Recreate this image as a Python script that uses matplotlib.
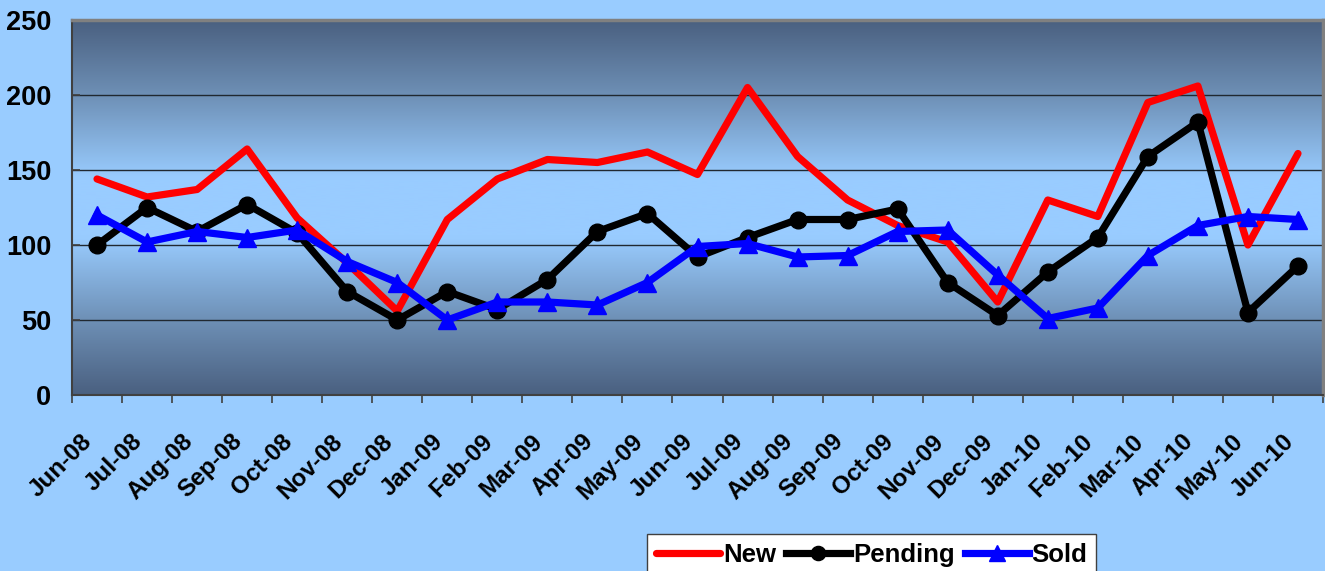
#!/usr/bin/env python3
import numpy as np
import matplotlib
matplotlib.use("Agg")
import matplotlib.pyplot as plt
from matplotlib.colors import LinearSegmentedColormap

# ----------------------------
# Data
# ----------------------------
months = [
    "Jun-08", "Jul-08", "Aug-08", "Sep-08", "Oct-08", "Nov-08", "Dec-08",
    "Jan-09", "Feb-09", "Mar-09", "Apr-09", "May-09", "Jun-09", "Jul-09",
    "Aug-09", "Sep-09", "Oct-09", "Nov-09", "Dec-09", "Jan-10", "Feb-10",
    "Mar-10", "Apr-10", "May-10", "Jun-10",
]
new = [144, 132, 137, 164, 118, 88, 56, 117, 144, 157, 155, 162, 147,
       205, 159, 130, 113, 102, 62, 130, 119, 195, 206, 100, 161]
pending = [100, 125, 109, 127, 108, 69, 50, 69, 57, 77, 109, 121, 92,
           105, 117, 117, 124, 75, 53, 82, 105, 159, 182, 55, 86]
sold = [120, 102, 109, 105, 110, 89, 75, 50, 62, 62, 60, 75, 99,
        101, 92, 93, 109, 110, 80, 51, 58, 93, 113, 119, 117]

# ----------------------------
# Style
# ----------------------------
plt.rcParams.update({
    "font.family": ["Liberation Sans", "DejaVu Sans"],
    "font.weight": "bold",
})

BG = "#99CCFF"
DARK = "#4A6080"

fig = plt.figure(figsize=(13.25, 5.71), dpi=100, facecolor=BG)
ax = fig.add_axes([72 / 1325, 176 / 571, 1251 / 1325, 375 / 571])

# vertical gradient dark -> light -> dark
cmap = LinearSegmentedColormap.from_list(
    "grad",
    [(0.0, DARK), (0.2, "#6E90B6"), (0.42, BG), (0.58, BG),
     (0.8, "#6E90B6"), (1.0, DARK)],
)
grad = np.linspace(0, 1, 256).reshape(-1, 1)
ax.imshow(grad, extent=[0, len(months), 0, 250], aspect="auto", cmap=cmap,
          origin="lower", zorder=0, interpolation="bicubic")

x = np.arange(len(months)) + 0.5

for yv in [50, 100, 150, 200]:
    ax.axhline(yv, color="#202830", linewidth=1.0, zorder=1)

ax.plot(x, new, color="#FF0000", linewidth=5.2, solid_capstyle="round",
        label="New", zorder=3)
ax.plot(x, pending, color="#000000", linewidth=5.2, marker="o", markersize=12,
        label="Pending", zorder=4)
ax.plot(x, sold, color="#0000FF", linewidth=5.2, marker="^", markersize=13,
        label="Sold", zorder=5)

ax.set_xlim(0, len(months))
ax.set_ylim(0, 250)

# ----------------------------
# Axes & ticks
# ----------------------------
ax.set_yticks([0, 50, 100, 150, 200, 250])
ax.tick_params(axis="y", direction="in", length=6, width=1.2, color="#404040",
               pad=15, labelsize=19.5)
for lbl in ax.get_yticklabels():
    lbl.set_fontweight("bold")

ax.set_xticks(x)
ax.set_xticklabels(months, rotation=45, ha="right", fontsize=17.5, fontweight="bold")
ax.set_xticks(np.arange(len(months) + 1), minor=True)
ax.tick_params(axis="x", which="major", length=0, pad=25)
ax.tick_params(axis="x", which="minor", direction="out", length=6, width=1.2,
               color="#404040")

for side in ["left", "bottom"]:
    ax.spines[side].set_color("#404040")
    ax.spines[side].set_linewidth(1.5)
for side in ["top", "right"]:
    ax.spines[side].set_color("#808080")
    ax.spines[side].set_linewidth(2.5)

# ----------------------------
# Legend
# ----------------------------
leg = fig.legend(loc="upper left", bbox_to_anchor=(647 / 1325, 37 / 571),
                 ncol=3, frameon=True, fancybox=False, fontsize=18.5,
                 handlelength=2.5, handletextpad=0.1, columnspacing=0.4,
                 borderpad=0.35, borderaxespad=0, markerscale=0.85)
leg.get_frame().set_edgecolor("#404040")
leg.get_frame().set_facecolor("white")
leg.get_frame().set_alpha(1)
leg.get_frame().set_linewidth(1.0)
for t in leg.get_texts():
    t.set_fontweight("bold")

fig.savefig("out.png", dpi=100, facecolor=BG)
